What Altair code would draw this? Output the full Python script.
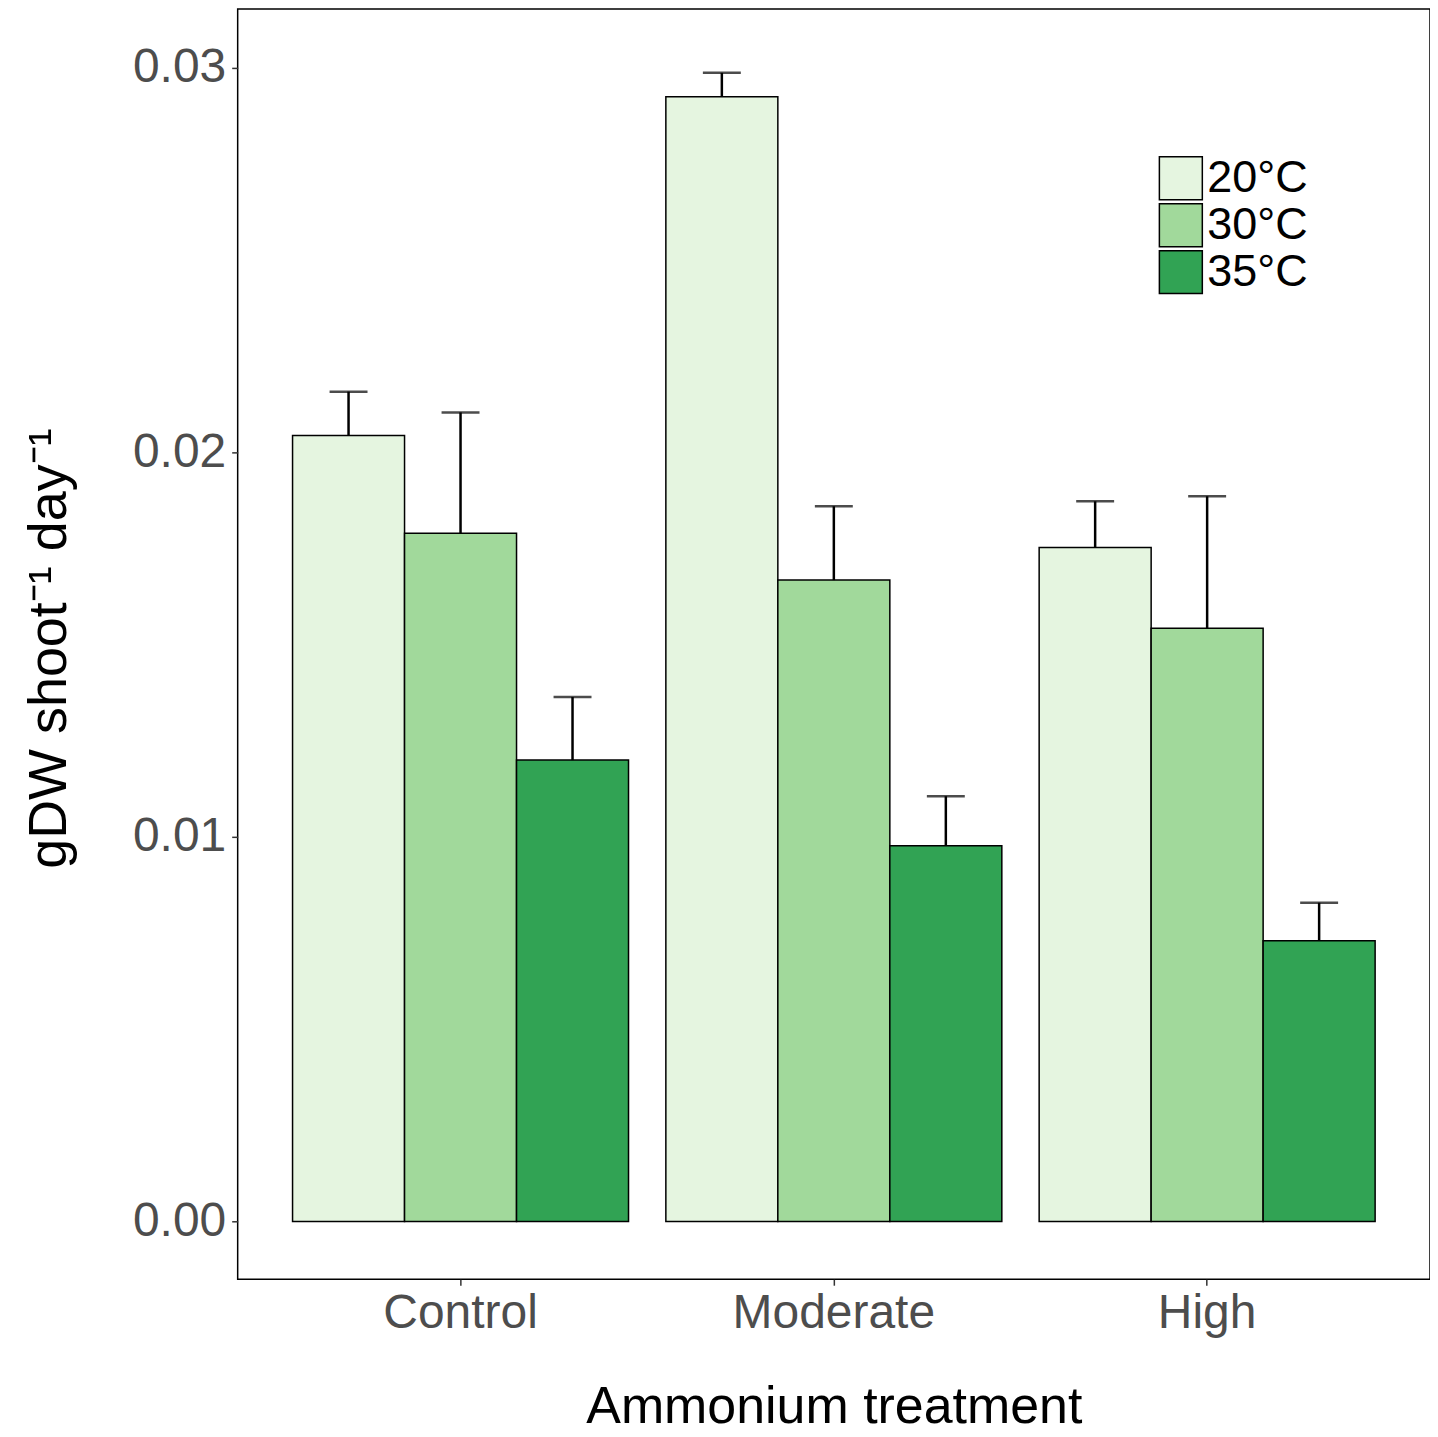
import altair as alt
import pandas as pd

treatments = ["Control", "Moderate", "High"]
temps = ["20°C", "30°C", "35°C"]
means = {
    "Control": [0.02044, 0.01790, 0.01200],
    "Moderate": [0.02925, 0.01668, 0.00977],
    "High": [0.01753, 0.01543, 0.00730],
}
errors = {
    "Control": [0.00114, 0.00314, 0.00164],
    "Moderate": [0.00062, 0.00192, 0.00129],
    "High": [0.00120, 0.00343, 0.00099],
}
colors = ["#E5F5E0", "#A1D99B", "#31A354"]

rows = []
for t in treatments:
    for i, tp in enumerate(temps):
        rows.append({"treatment": t, "temp": tp, "mean": means[t][i], "se": errors[t][i]})
df = pd.DataFrame(rows)

FONT = "Liberation Sans"

xenc = alt.X("treatment:N", sort=treatments,
             scale=alt.Scale(paddingInner=0.1, paddingOuter=0.147),
             axis=alt.Axis(title="Ammonium treatment", labelFontSize=48, labelColor="#4D4D4D",
                           labelFont=FONT, labelAngle=0, labelLimit=0, tickSize=6,
                           tickColor="#333333", tickWidth=1.5, labelPadding=4, domain=False,
                           grid=False, titleFont=FONT, titleFontSize=52,
                           titleFontWeight="normal", titleColor="black", titleY=143,
                           titleBaseline="alphabetic"))
xoff = alt.XOffset("temp:N", sort=temps, scale=alt.Scale(paddingInner=0, paddingOuter=0))
yscale = alt.Scale(domain=[-0.0015, 0.03153], nice=False, zero=False)

base = alt.Chart(df)

bars = base.mark_bar(stroke="black", strokeWidth=1.5).encode(
    x=xenc,
    xOffset=xoff,
    y=alt.Y("mean:Q", scale=yscale,
            axis=alt.Axis(title="gDW shoot⁻¹ day⁻¹", values=[0, 0.01, 0.02, 0.03], format=".2f",
                          labelFontSize=48, labelColor="#4D4D4D", labelFont=FONT,
                          tickSize=6, tickColor="#333333", tickWidth=1.5, labelPadding=6,
                          domain=False, grid=False, titleFont=FONT, titleFontSize=54,
                          titleFontWeight="normal", titleColor="black",
                          titleX=-172, titleY=640, titleAngle=-90, titleBaseline="alphabetic",
                          titleAlign="center")),
    y2=alt.datum(0),
    fill=alt.Fill("temp:N", sort=temps, scale=alt.Scale(domain=temps, range=colors),
                  legend=alt.Legend(title=None, orient="none", legendX=922, legendY=147,
                                    symbolType="square", symbolSize=1849,
                                    symbolStrokeColor="black", symbolStrokeWidth=1.5,
                                    labelFontSize=45, labelFont=FONT, labelColor="black",
                                    labelOffset=4, rowPadding=-3)),
)

err = base.transform_calculate(upper="datum.mean + datum.se")

rules = err.mark_rule(color="black", strokeWidth=2.5).encode(
    x=alt.X("treatment:N", sort=treatments),
    xOffset=alt.XOffset("temp:N", sort=temps),
    y=alt.Y("mean:Q"),
    y2=alt.Y2("upper:Q"),
)

caps = err.mark_tick(color="black", size=38, thickness=2.5).encode(
    x=alt.X("treatment:N", sort=treatments),
    xOffset=alt.XOffset("temp:N", sort=temps),
    y=alt.Y("upper:Q"),
)

chart = alt.layer(bars, rules, caps).properties(
    width=1194, height=1272,
    background="white",
    autosize=alt.AutoSizeParams(type="none"),
    padding={"left": 230, "top": 0, "right": 0, "bottom": 154},
).configure_view(stroke="black", strokeWidth=1.5)

chart.save("out.html", embed_options={"renderer": "svg", "actions": False})
